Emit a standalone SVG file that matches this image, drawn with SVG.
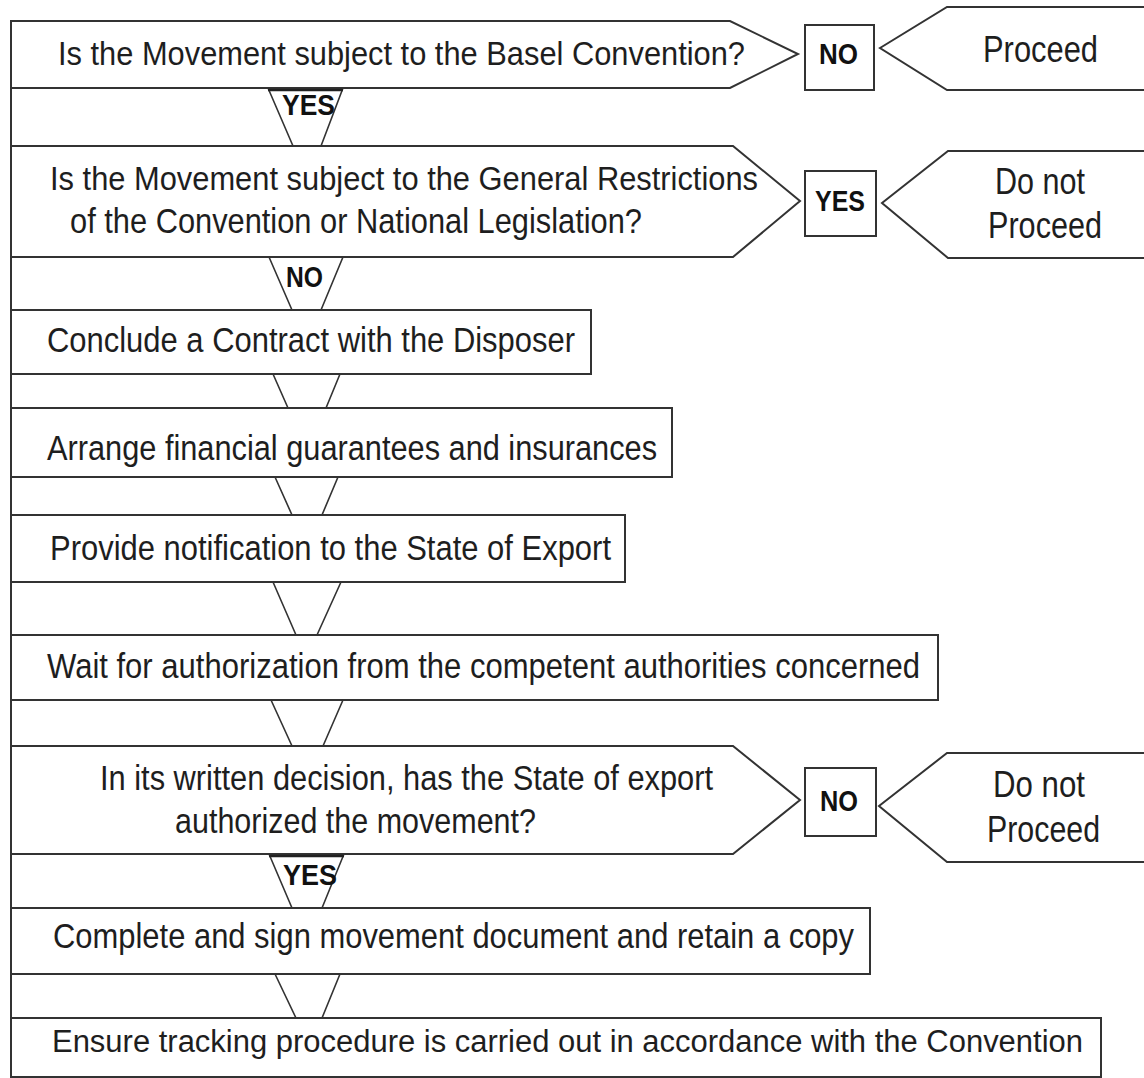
<svg xmlns="http://www.w3.org/2000/svg" width="1144" height="1078" viewBox="0 0 1144 1078">
<style>
.shape{fill:#fff;stroke:#333;stroke-width:2}
.conn{fill:none;stroke:#333;stroke-width:1.6}
.cap{fill:none;stroke:#222;stroke-width:2.4}
.t{font-family:"Liberation Sans",Arial,sans-serif;font-size:35.5px;fill:#1e1e1e}
.n{font-size:33px}
.w{font-size:31px}
.s{font-family:"Liberation Sans",Arial,sans-serif;font-size:37px;fill:#1e1e1e}
.b{font-family:"Liberation Sans",Arial,sans-serif;font-size:29px;font-weight:bold;fill:#111}
</style>
<rect width="1144" height="1078" fill="#fff"/>

<g id="q1">
<polygon class="shape" points="11,21 730,21 798,54 730,88 11,88"/>
<text class="t n" x="58" y="65" textLength="687" lengthAdjust="spacingAndGlyphs">Is the Movement subject to the Basel Convention?</text>
</g>
<g id="q1-no">
<rect class="shape" x="805" y="25" width="69" height="65"/>
<text class="b" x="819" y="64" textLength="39" lengthAdjust="spacingAndGlyphs">NO</text>
</g>
<g id="proceed">
<polygon class="shape" points="880,48 947,7 1150,7 1150,90 947,90"/>
<text class="s" x="983" y="62" textLength="115" lengthAdjust="spacingAndGlyphs">Proceed</text>
</g>

<g id="q2">
<polygon class="shape" points="11,146 733,146 800,201 733,257 11,257"/>
<text class="t n" x="50" y="190" textLength="708" lengthAdjust="spacingAndGlyphs">Is the Movement subject to the General Restrictions</text>
<text class="t" x="70" y="233" textLength="572" lengthAdjust="spacingAndGlyphs">of the Convention or National Legislation?</text>
</g>
<g id="q2-yes">
<rect class="shape" x="805" y="171" width="71" height="65"/>
<text class="b" x="815" y="211" textLength="50" lengthAdjust="spacingAndGlyphs">YES</text>
</g>
<g id="stop1">
<polygon class="shape" points="882,203 948,151 1150,151 1150,258 948,258"/>
<text class="s" x="995" y="194" textLength="90" lengthAdjust="spacingAndGlyphs">Do not</text>
<text class="s" x="988" y="238" textLength="114" lengthAdjust="spacingAndGlyphs">Proceed</text>
</g>

<g id="contract">
<rect class="shape" x="11" y="310" width="580" height="64"/>
<text class="t" x="47" y="352" textLength="528" lengthAdjust="spacingAndGlyphs">Conclude a Contract with the Disposer</text>
</g>
<g id="guarantees">
<rect class="shape" x="11" y="408" width="661" height="69"/>
<text class="t" x="47" y="460" textLength="610" lengthAdjust="spacingAndGlyphs">Arrange financial guarantees and insurances</text>
</g>
<g id="notify">
<rect class="shape" x="11" y="515" width="614" height="67"/>
<text class="t" x="50" y="560" textLength="561" lengthAdjust="spacingAndGlyphs">Provide notification to the State of Export</text>
</g>
<g id="wait">
<rect class="shape" x="11" y="635" width="927" height="65"/>
<text class="t" x="47" y="678" textLength="873" lengthAdjust="spacingAndGlyphs">Wait for authorization from the competent authorities concerned</text>
</g>

<g id="q3">
<polygon class="shape" points="11,746 733,746 800,800 733,854 11,854"/>
<text class="t" x="100" y="790" textLength="613" lengthAdjust="spacingAndGlyphs">In its written decision, has the State of export</text>
<text class="t" x="175" y="833" textLength="361" lengthAdjust="spacingAndGlyphs">authorized the movement?</text>
</g>
<g id="q3-no">
<rect class="shape" x="805" y="768" width="71" height="68"/>
<text class="b" x="820" y="811" textLength="38" lengthAdjust="spacingAndGlyphs">NO</text>
</g>
<g id="stop2">
<polygon class="shape" points="879,806 947,753 1150,753 1150,862 947,862"/>
<text class="s" x="993" y="797" textLength="92" lengthAdjust="spacingAndGlyphs">Do not</text>
<text class="s" x="987" y="842" textLength="113" lengthAdjust="spacingAndGlyphs">Proceed</text>
</g>

<g id="document">
<rect class="shape" x="11" y="908" width="859" height="66"/>
<text class="t" x="53" y="948" textLength="801" lengthAdjust="spacingAndGlyphs">Complete and sign movement document and retain a copy</text>
</g>
<g id="tracking">
<rect class="shape" x="11" y="1018" width="1090" height="59"/>
<text class="t w" x="52" y="1052" textLength="1031" lengthAdjust="spacingAndGlyphs">Ensure tracking procedure is carried out in accordance with the Convention</text>
</g>

<g id="connectors">
<line class="shape" x1="11" y1="21" x2="11" y2="1078"/>
<path class="conn" d="M268,88 L293,146 M343,88 L321,146"/>
<line class="cap" x1="268" y1="90" x2="343" y2="90"/>
<text class="b" x="282" y="115" textLength="53" lengthAdjust="spacingAndGlyphs">YES</text>
<path class="conn" d="M269,257 L292,310 M343,257 L321,310"/>
<text class="b" x="286" y="287" textLength="37" lengthAdjust="spacingAndGlyphs">NO</text>
<path class="conn" d="M273,374 L288,408 M340,374 L326,408"/>
<path class="conn" d="M275,477 L292,515 M338,477 L322,515"/>
<path class="conn" d="M273,582 L296,635 M341,582 L317,635"/>
<path class="conn" d="M271,700 L292,746 M343,700 L323,746"/>
<path class="conn" d="M269,854 L292,908 M344,854 L322,908"/>
<line class="cap" x1="269" y1="856" x2="344" y2="856"/>
<text class="b" x="283" y="885" textLength="54" lengthAdjust="spacingAndGlyphs">YES</text>
<path class="conn" d="M275,974 L296,1018 M340,974 L322,1018"/>
</g>
</svg>
